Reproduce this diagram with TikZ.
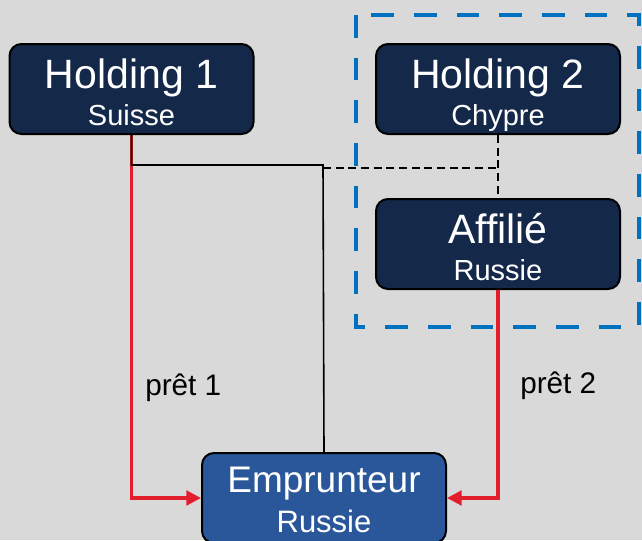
\documentclass[tikz,border=0pt]{standalone}
\usepackage{fontspec}
\setmainfont{Liberation Sans}
\usetikzlibrary{arrows.meta}
\definecolor{bgcol}{RGB}{217,217,217}
\definecolor{navy}{RGB}{20,40,74}
\definecolor{midblue}{RGB}{41,87,154}
\definecolor{loanred}{RGB}{226,30,45}
\definecolor{groupblue}{RGB}{0,112,192}
\tikzset{
  entity/.style={draw=black, line width=1.5pt, rounded corners=9pt, fill=navy,
    minimum width=183pt, minimum height=67.5pt, inner sep=0pt},
  borrower/.style={entity, fill=midblue},
  title/.style={anchor=base, text=white, inner sep=0pt, font=\fontsize{30.75pt}{32pt}\selectfont},
  subtitle/.style={anchor=base, text=white, inner sep=0pt, font=\fontsize{21.75pt}{23pt}\selectfont},
  loanlbl/.style={anchor=base west, text=black, inner sep=0pt, font=\fontsize{22.3pt}{23pt}\selectfont},
  own/.style={draw=black, line width=1.2pt},
  ownd/.style={own, dash pattern=on 6pt off 3.5pt},
  loan/.style={draw=loanred, line width=2.4pt, -{Triangle[length=11pt,width=11pt]}},
  group/.style={draw=groupblue, line width=3.6pt, dash pattern=on 17pt off 15pt}
}
\begin{document}
\begin{tikzpicture}[x=0.75pt,y=-0.75pt]
  \useasboundingbox (0,0) rectangle (642,540);
  \fill[bgcol] (0,0) rectangle (642,540);
  \clip (0,0) rectangle (642,540);

  % group of related companies
  \draw[group] (356,15) rectangle (639,327);

  % entities
  \node[entity] (h1) at (131.5,89) {};
  \node[entity] (h2) at (498,89) {};
  \node[entity] (af) at (498,244) {};
  \node[borrower] (em) at (324,498) {};

  % ownership links and loans
  \coordinate (j1) at (131.5,165);
  \coordinate (j2) at (323,165);
  \coordinate (j3) at (323,168);
  \coordinate (j4) at (498,168);
  \draw[loan] (h1.south) |- (em.west);
  \draw[loan] (af.south) |- (em.east);
  \draw[own] (h1.south) -- (j1) -- (j2) -- (em.north);
  \draw[ownd] (j3) -- (j4);
  \draw[ownd] (h2.south) -- (af.north);

  % labels
  \node[title] (h1t) at (131.5,88) {Holding 1};
  \node[subtitle] (h1s) at (131.5,125) {Suisse};
  \node[title] (h2t) at (498,88) {Holding 2};
  \node[subtitle] (h2s) at (498,125) {Chypre};
  \node[title] (aft) at (498,243) {Affilié};
  \node[subtitle] (afs) at (498,280) {Russie};
  \node[title, font=\fontsize{27.75pt}{29pt}\selectfont] (emt) at (324,492) {Emprunteur};
  \node[subtitle, font=\fontsize{23.25pt}{24pt}\selectfont] (ems) at (324,532) {Russie};
  \node[loanlbl] (p1) at (145,395) {prêt 1};
  \node[loanlbl] (p2) at (520,393) {prêt 2};
\end{tikzpicture}
\end{document}
